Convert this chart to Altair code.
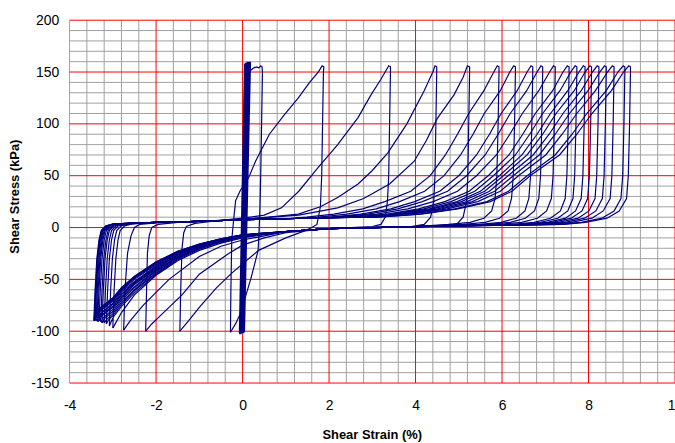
import altair as alt
import pandas as pd

FONT = "Liberation Sans"
LINE_COLOR = "#000080"
MINOR_COLOR = "#a0a0a0"
MAJOR_COLOR = "#ff0000"

X_TICKS = [-4, -2, 0, 2, 4, 6, 8, 10]
Y_TICKS = [-150, -100, -50, 0, 50, 100, 150, 200]

C00_X = [-0.06, 0.06, -0.05, 0.08, -0.03, 0.10, -0.02, 0.12, 0.00, 0.14, 0.01, 0.16, 0.02, 0.17, 0.03, 0.12, 0.02]
C00_Y = [-102, 158, -103, 159, -101, 158, -102, 160, -101, 158, -102, 159, -100, 160, -101, 157, -100]

C01_X = [0.02, 0.06, 0.10, 0.12, 0.14, 0.20, 0.26, 0.32, 0.38, 0.42, 0.45, 0.46, 0.44, 0.42, 0.40, 0.38, 0.36, 0.28, 0.20, 0.08, -0.02, -0.15, -0.28]
C01_Y = [-100, 0, 100, 150, 153, 152, 154, 155, 154, 156, 155, 150, 100, 50, 15, -5, -22, -35, -48, -65, -80, -92, -101]

C02_X = [-0.28, -0.27, -0.25, -0.20, -0.16, -0.05, 0.14, 0.30, 0.62, 0.95, 1.29, 1.55, 1.75, 1.84, 1.88, 1.87, 1.85, 1.83, 1.80, 1.72, 1.60, 1.45, 1.00, 0.37, -0.25, -0.60, -1.00, -1.25, -1.45]
C02_Y = [-101, -60, -12, 10, 26, 36, 48, 64, 90, 108, 125, 140, 150, 156, 155, 150, 100, 50, 20, 3, 0, -3, -10, -22, -44, -58, -77, -90, -100]

C03_X = [-1.45, -1.43, -1.40, -1.36, -1.30, -1.10, -0.50, 0.00, 0.50, 0.90, 1.30, 1.75, 2.20, 2.67, 2.97, 3.20, 3.38, 3.42, 3.42, 3.40, 3.38, 3.35, 3.30, 3.20, 3.00, 2.50, 2.00, 1.00, 0.50, 0.00, -0.32, -1.00, -1.40, -1.90, -2.10, -2.24]
C03_Y = [-100, -60, -20, -5, 1, 4, 7, 9, 12, 19, 35, 58, 80, 106, 128, 143, 156, 155, 150, 100, 50, 25, 10, 3, 1, 0, -1, -5, -10, -17, -25, -45, -65, -85, -93, -100]

C04_X = [-2.24, -2.22, -2.20, -2.16, -2.10, -1.95, -1.50, -0.50, 0.00, 0.60, 1.29, 1.80, 2.20, 2.67, 3.00, 3.36, 3.80, 4.20, 4.40, 4.45, 4.49,
         4.49, 4.47, 4.45, 4.42, 4.35, 4.20, 3.90, 3.00, 2.00, 1.00, 0.00, -0.50, -1.00, -1.70, -2.30, -2.60, -2.75]
C04_Y = [-100, -60, -25, -8, 0, 3, 5, 7, 8, 10, 13, 20, 29, 42, 55, 72, 100, 132, 150, 156, 155,
         150, 100, 50, 25, 10, 3, 1, 0, -1, -4, -12, -18, -28, -50, -75, -90, -99]

C05_X = [-2.75, -2.72, -2.66, -2.58, -2.50, -2.38, -2.00, -1.00, 0.00, 1.30, 2.20, 2.80, 3.40, 3.97, 4.25, 4.50, 4.89, 5.10, 5.20, 5.25,
         5.25, 5.23, 5.21, 5.18, 5.10, 4.95, 4.60, 4.00, 3.00, 2.00, 1.00, 0.00, -0.50, -1.00, -1.50, -2.00, -2.50, -2.80, -3.00]
C05_Y = [-99, -60, -25, -8, 0, 3, 4.5, 6, 8, 12, 19, 28, 42, 64, 84, 105, 128, 145, 156, 155,
         150, 100, 50, 25, 10, 3, 1.5, 0.5, 0, -1, -4, -10, -15, -22, -32, -46, -65, -82, -97]

C06_X = [-3.00, -2.97, -2.93, -2.88, -2.83, -2.73, -2.55, -2.00, -1.00, 0.00, 1.00, 1.48, 2.11, 2.78, 3.29, 3.89, 4.34, 4.69, 4.97, 5.23, 5.58, 5.81, 5.89, 5.93,
         5.93, 5.91, 5.88, 5.84, 5.76, 5.58, 5.26, 4.76, 4.00, 3.00, 2.00, 1.00, 0.00, -0.50, -1.00, -1.50, -2.00, -2.50, -2.80, -3.00, -3.08]
C06_Y = [-97, -60, -30, -12, -3, 1.5, 3.5, 5, 6, 7.5, 8.5, 10, 13, 18, 25, 35, 50, 70, 90, 110, 132, 150, 156, 155,
         150, 100, 50, 28, 16, 9, 5, 3, 0.8, 0, -1, -4, -9, -14, -21, -31, -45, -63, -76, -87, -95]

C07_X = [-3.08, -3.05, -3.01, -2.96, -2.91, -2.81, -2.63, -2.00, -1.00, 0.00, 1.00, 1.76, 2.41, 3.09, 3.63, 4.21, 4.66, 5.04, 5.33, 5.59, 5.96, 6.18, 6.27, 6.31,
         6.31, 6.29, 6.26, 6.22, 6.14, 5.94, 5.61, 5.11, 4.00, 3.00, 2.00, 1.00, 0.00, -0.50, -1.00, -1.50, -2.00, -2.50, -2.80, -3.00, -3.10, -3.15]
C07_Y = [-95, -60, -30, -12, -3, 1.5, 3.5, 5, 6, 7.5, 8.5, 10, 13, 18, 25, 35, 50, 70, 90, 110, 132, 150, 156, 155,
         150, 100, 50, 28, 16, 9, 5, 3, 0.8, 0, -1, -4, -9, -14, -20, -30, -44, -61, -74, -85, -89, -93]

C08_X = [-3.15, -3.12, -3.08, -3.03, -2.98, -2.88, -2.70, -2.00, -1.00, 0.00, 1.00, 2.05, 2.73, 3.43, 3.98, 4.56, 5.00, 5.41, 5.71, 5.98, 6.35, 6.58, 6.67, 6.71,
         6.71, 6.69, 6.66, 6.62, 6.53, 6.33, 5.98, 5.48, 4.00, 3.00, 2.00, 1.00, 0.00, -0.50, -1.00, -1.50, -2.00, -2.50, -2.80, -3.00, -3.15, -3.20]
C08_Y = [-93, -60, -30, -12, -3, 1.5, 3.5, 5, 6, 7.5, 8.5, 10, 13, 18, 25, 35, 50, 70, 90, 110, 132, 150, 156, 155,
         150, 100, 50, 28, 16, 9, 5, 3, 0.8, 0, -1, -4, -8.5, -13.5, -20, -29, -43, -60, -72, -83, -89, -92]

C09_X = [-3.20, -3.17, -3.13, -3.08, -3.03, -2.93, -2.75, -2.00, -1.00, 0.00, 1.00, 2.17, 2.89, 3.59, 4.16, 4.74, 5.18, 5.61, 5.91, 6.19, 6.57, 6.81, 6.90, 6.94,
         6.94, 6.92, 6.89, 6.85, 6.75, 6.54, 6.19, 5.69, 4.00, 3.00, 2.00, 1.00, 0.00, -0.50, -1.00, -1.50, -2.00, -2.50, -2.80, -3.00, -3.20, -3.25]
C09_Y = [-92, -60, -30, -12, -3, 1.5, 3.5, 5, 6, 7.5, 8.5, 10, 13, 18, 25, 35, 50, 70, 90, 110, 132, 150, 156, 155,
         150, 100, 50, 28, 16, 9, 5, 3, 0.8, 0, -1, -4, -8.5, -13, -19.5, -28.5, -42, -58, -70, -81, -88, -92]

C10_X = [-3.25, -3.22, -3.18, -3.13, -3.08, -2.98, -2.80, -2.00, -1.00, 0.00, 1.00, 2.00, 2.35, 3.10, 3.82, 4.41, 4.97, 5.41, 5.87, 6.18, 6.47, 6.85, 7.10, 7.19, 7.23,
         7.23, 7.21, 7.18, 7.14, 7.03, 6.82, 6.45, 5.95, 4.00, 3.00, 2.00, 1.00, 0.00, -0.50, -1.00, -1.50, -2.00, -2.50, -2.80, -3.00, -3.22, -3.28]
C10_Y = [-92, -60, -30, -12, -3, 1.5, 3.5, 5, 6, 7.5, 8.5, 9.5, 10, 13, 18, 25, 35, 50, 70, 90, 110, 132, 150, 156, 155,
         150, 100, 50, 28, 16, 9, 5, 3, 0.8, 0, -1, -4, -8, -13, -19, -28, -41, -57, -68, -79, -87, -91]

C11_X = [-3.28, -3.25, -3.21, -3.16, -3.11, -3.01, -2.83, -2.00, -1.00, 0.00, 1.00, 2.00, 2.57, 3.34, 4.07, 4.68, 5.24, 5.68, 6.16, 6.48, 6.77, 7.17, 7.41, 7.51, 7.55,
         7.55, 7.53, 7.50, 7.46, 7.35, 7.12, 6.74, 6.24, 4.00, 3.00, 2.00, 1.00, 0.00, -0.50, -1.00, -1.50, -2.00, -2.50, -2.80, -3.00, -3.25, -3.32]
C11_Y = [-91, -60, -30, -12, -3, 1.5, 3.5, 5, 6, 7.5, 8.5, 9.5, 10, 13, 18, 25, 35, 50, 70, 90, 110, 132, 150, 156, 155,
         150, 100, 50, 28, 16, 9, 5, 3, 0.8, 0, -1, -4, -8, -12.5, -18.5, -27, -40, -55, -67, -77, -85, -90]

C12_X = [-3.32, -3.29, -3.25, -3.20, -3.15, -3.05, -2.87, -2.00, -1.00, 0.00, 1.00, 2.00, 2.64, 3.44, 4.19, 4.82, 5.37, 5.80, 6.31, 6.64, 6.94, 7.34, 7.59, 7.69, 7.73,
         7.73, 7.71, 7.68, 7.64, 7.52, 7.29, 6.89, 6.39, 4.00, 3.00, 2.00, 1.00, 0.00, -0.50, -1.00, -1.50, -2.00, -2.50, -2.80, -3.00, -3.28, -3.35]
C12_Y = [-90, -60, -30, -12, -3, 1.5, 3.5, 5, 6, 7.5, 8.5, 9.5, 10, 13, 18, 25, 35, 50, 70, 90, 110, 132, 150, 156, 155,
         150, 100, 50, 28, 16, 9, 5, 3, 0.8, 0, -1, -4, -8, -12.5, -18, -26.5, -39, -54, -65, -76, -85, -91]

C13_X = [-3.35, -3.32, -3.28, -3.23, -3.18, -3.08, -2.90, -2.00, -1.00, 0.00, 1.00, 2.00, 2.72, 3.55, 4.32, 4.96, 5.50, 5.94, 6.46, 6.81, 7.12, 7.52, 7.78, 7.88, 7.92,
         7.92, 7.90, 7.87, 7.83, 7.70, 7.47, 7.05, 6.55, 4.00, 3.00, 2.00, 1.00, 0.00, -0.50, -1.00, -1.50, -2.00, -2.50, -2.80, -3.00, -3.30, -3.37]
C13_Y = [-91, -60, -30, -12, -3, 1.5, 3.5, 5, 6, 7.5, 8.5, 9.5, 10, 13, 18, 25, 35, 50, 70, 90, 110, 132, 150, 156, 155,
         150, 100, 50, 28, 16, 9, 5, 3, 0.8, 0, -1, -4, -7.5, -12, -17.5, -26, -38, -53, -64, -74, -84, -90]

C14_X = [-3.37, -3.34, -3.30, -3.25, -3.20, -3.10, -2.92, -2.00, -1.00, 0.00, 1.00, 2.00, 2.77, 3.62, 4.40, 5.06, 5.60, 6.03, 6.58, 6.94, 7.25, 7.67, 7.92, 8.03, 8.07,
         8.07, 8.05, 8.02, 7.98, 7.85, 7.60, 7.17, 6.67, 4.00, 3.00, 2.00, 1.00, 0.00, -0.50, -1.00, -1.50, -2.00, -2.50, -2.80, -3.00, -3.32, -3.39]
C14_Y = [-90, -60, -30, -12, -3, 1.5, 3.5, 5, 6, 7.5, 8.5, 9.5, 10, 13, 18, 25, 35, 50, 70, 90, 110, 132, 150, 156, 155,
         150, 100, 50, 28, 16, 9, 5, 3, 0.8, 0, -1, -4, -7.5, -12, -17.5, -25, -37, -52, -62, -73, -84, -90]

C15_X = [-3.39, -3.36, -3.32, -3.27, -3.22, -3.12, -2.94, -2.00, -1.00, 0.00, 1.00, 2.00, 2.83, 3.71, 4.51, 5.19, 5.71, 6.14, 6.72, 7.09, 7.41, 7.83, 8.09, 8.20, 8.24,
         8.24, 8.22, 8.19, 8.15, 8.01, 7.76, 7.31, 6.81, 4.00, 3.00, 2.00, 1.00, 0.00, -0.50, -1.00, -1.50, -2.00, -2.50, -2.80, -3.00, -3.33, -3.41]
C15_Y = [-90, -60, -30, -12, -3, 1.5, 3.5, 5, 6, 7.5, 8.5, 9.5, 10, 13, 18, 25, 35, 50, 70, 90, 110, 132, 150, 156, 155,
         150, 100, 50, 28, 16, 9, 5, 3, 0.8, 0, -1, -4, -7.5, -11.5, -17, -24.5, -36, -50, -61, -71, -82, -89]

C16_X = [-3.41, -3.38, -3.34, -3.29, -3.24, -3.14, -2.96, -2.00, -1.00, 0.00, 1.00, 2.00, 2.89, 3.81, 4.61, 5.31, 5.83, 6.26, 6.86, 7.23, 7.56, 7.99, 8.26, 8.37, 8.41,
         8.41, 8.39, 8.36, 8.32, 8.17, 7.91, 7.46, 6.96, 4.00, 3.00, 2.00, 1.00, 0.00, -0.50, -1.00, -1.50, -2.00, -2.50, -2.80, -3.00, -3.34, -3.42]
C16_Y = [-89, -60, -30, -12, -3, 1.5, 3.5, 5, 6, 7.5, 8.5, 9.5, 10, 13, 18, 25, 35, 50, 70, 90, 110, 132, 150, 156, 155,
         150, 100, 50, 28, 16, 9, 5, 3, 0.8, 0, -1, -4, -7, -11.5, -17, -24, -35, -49, -60, -70, -82, -90]

C17_X = [-3.42, -3.39, -3.35, -3.30, -3.25, -3.15, -2.97, -2.00, -1.00, 0.00, 1.00, 2.00, 2.96, 3.91, 4.73, 5.44, 5.96, 6.38, 7.01, 7.39, 7.73, 8.16, 8.44, 8.55, 8.59,
         8.59, 8.57, 8.54, 8.50, 8.34, 8.08, 7.61, 7.11, 4.00, 3.00, 2.00, 1.00, 0.00, -0.50, -1.00, -1.50, -2.00, -2.50, -2.80, -3.00, -3.35, -3.43]
C17_Y = [-90, -60, -30, -12, -3, 1.5, 3.5, 5, 6, 7.5, 8.5, 9.5, 10, 13, 18, 25, 35, 50, 70, 90, 110, 132, 150, 156, 155,
         150, 100, 50, 28, 16, 9, 5, 3, 0.8, 0, -1, -4, -7, -11, -16.5, -23.5, -34, -48, -59, -69, -81, -89]

C18_X = [-3.43, -3.40, -3.36, -3.31, -3.26, -3.16, -2.98, -2.00, -1.00, 0.00, 1.00, 2.00, 3.11, 4.08, 4.91, 5.65, 6.15, 6.58, 7.23, 7.62, 7.96, 8.41, 8.68, 8.80, 8.84,
         8.84, 8.82, 8.79, 8.75, 8.59, 8.31, 7.83, 7.33, 4.00, 3.00, 2.00, 1.00, 0.00, -0.50, -1.00, -1.50, -2.00, -2.50, -2.80, -3.00, -3.36, -3.44]
C18_Y = [-89, -60, -30, -12, -3, 1.5, 3.5, 5, 6, 7.5, 8.5, 9.5, 10, 13, 18, 25, 35, 50, 70, 90, 110, 132, 150, 156, 155,
         150, 100, 50, 28, 16, 9, 5, 3, 0.8, 0, -1, -4, -7, -11, -16, -23, -33.5, -47.5, -58, -68, -80, -90]

C19_X = [-3.44, -3.41, -3.37, -3.32, -3.27, -3.17, -2.99, -2.00, -1.00, 0.00, 1.00, 2.00, 3.13, 4.13, 4.98, 5.73, 6.23, 6.65, 7.33, 7.73, 8.08, 8.53, 8.81, 8.93, 8.97,
         8.97, 8.95, 8.92, 8.88, 8.71, 8.43, 7.93, 7.43, 4.00, 3.00, 2.00, 1.00, 0.00, -0.50, -1.00, -1.50, -2.00, -2.50, -2.80, -3.00, -3.37, -3.45]
C19_Y = [-90, -60, -30, -12, -3, 1.5, 3.5, 5, 6, 7.5, 8.5, 9.5, 10, 13, 18, 25, 35, 50, 70, 90, 110, 132, 150, 156, 155,
         150, 100, 50, 28, 16, 9, 5, 3, 0.8, 0, -1, -4, -7, -11, -16, -23, -33, -47, -58, -68, -80, -88]

CYCLES = [
    (C00_X, C00_Y), (C01_X, C01_Y), (C02_X, C02_Y), (C03_X, C03_Y), (C04_X, C04_Y),
    (C05_X, C05_Y), (C06_X, C06_Y), (C07_X, C07_Y), (C08_X, C08_Y), (C09_X, C09_Y),
    (C10_X, C10_Y), (C11_X, C11_Y), (C12_X, C12_Y), (C13_X, C13_Y), (C14_X, C14_Y),
    (C15_X, C15_Y), (C16_X, C16_Y), (C17_X, C17_Y), (C18_X, C18_Y), (C19_X, C19_Y),
]

rows = []
for c, (xs_, ys_) in enumerate(CYCLES):
    assert len(xs_) == len(ys_), (c, len(xs_), len(ys_))
    for i, (x, y) in enumerate(zip(xs_, ys_)):
        rows.append({"cycle": c, "i": i, "strain": x, "stress": y,
                     "w": "thick" if c == 0 else "thin"})
df = pd.DataFrame(rows)

MAJOR_X = [-2, 0, 2, 4, 6, 8, 10]
MAJOR_Y = [-150, -100, -50, 0, 50, 100, 150, 200]
MINOR_X = [round(-4 + 0.4 * k, 2) for k in range(36)]
MINOR_X = [v for v in MINOR_X if v == -4 or abs(v / 2 - round(v / 2)) > 1e-6]
MINOR_Y = [-150 + 10 * k for k in range(36) if (-150 + 10 * k) % 50 != 0]

grid_rows = []
for v in MINOR_X:
    grid_rows.append({"kind": "minor", "orient": "v", "pos": v})
for v in MINOR_Y:
    grid_rows.append({"kind": "minor", "orient": "h", "pos": v})
for v in MAJOR_X:
    grid_rows.append({"kind": "major", "orient": "v", "pos": v})
for v in MAJOR_Y:
    grid_rows.append({"kind": "major", "orient": "h", "pos": v})
grid_df = pd.DataFrame(grid_rows)
grid_df["strain"] = grid_df["pos"].where(grid_df["orient"] == "v")
grid_df["stress"] = grid_df["pos"].where(grid_df["orient"] == "h")

xscale = alt.Scale(domain=[-4, 10], nice=False, zero=False)
yscale = alt.Scale(domain=[-150, 200], nice=False, zero=False)

xaxis = alt.Axis(values=X_TICKS, title="Shear Strain (%)", grid=False, ticks=False, domain=False,
                 labelFlush=False, labelFont=FONT, labelFontSize=14, labelColor="#000000",
                 labelPadding=16, labelExpr="'' + datum.value",
                 titleFont=FONT, titleFontSize=13, titleFontWeight="bold", titleColor="#000000",
                 titleX=304, titleY=52, titleAlign="center", titleBaseline="middle")
yaxis = alt.Axis(values=Y_TICKS, title="Shear Stress (kPa)", grid=False, ticks=False, domain=False,
                 labelFlush=False, labelFont=FONT, labelFontSize=14, labelColor="#000000",
                 labelPadding=11, labelExpr="'' + datum.value",
                 titleFont=FONT, titleFontSize=13, titleFontWeight="bold", titleColor="#000000",
                 titleX=-55, titleY=177, titleAngle=270, titleAlign="center", titleBaseline="middle")

base_grid = alt.Chart(grid_df)
minor_v = base_grid.transform_filter("datum.kind == 'minor' && datum.orient == 'v'").mark_rule(
    color=MINOR_COLOR, strokeWidth=1).encode(
    x=alt.X("strain:Q", scale=xscale, axis=xaxis), y=alt.value(0), y2=alt.value(365))
minor_h = base_grid.transform_filter("datum.kind == 'minor' && datum.orient == 'h'").mark_rule(
    color=MINOR_COLOR, strokeWidth=1).encode(
    y=alt.Y("stress:Q", scale=yscale, axis=yaxis), x=alt.value(0), x2=alt.value(609))
major_v = base_grid.transform_filter("datum.kind == 'major' && datum.orient == 'v'").mark_rule(
    color=MAJOR_COLOR, strokeWidth=1).encode(
    x=alt.X("strain:Q", scale=xscale, axis=xaxis), y=alt.value(0), y2=alt.value(365))
major_h = base_grid.transform_filter("datum.kind == 'major' && datum.orient == 'h'").mark_rule(
    color=MAJOR_COLOR, strokeWidth=1).encode(
    y=alt.Y("stress:Q", scale=yscale, axis=yaxis), x=alt.value(0), x2=alt.value(609))

base_lines = alt.Chart(df)
thin = base_lines.transform_filter("datum.w == 'thin'").mark_line(
    color=LINE_COLOR, strokeWidth=1.2, clip=True).encode(
    x=alt.X("strain:Q", scale=xscale, axis=xaxis),
    y=alt.Y("stress:Q", scale=yscale, axis=yaxis),
    detail="cycle:N",
    order="i:Q",
)
thick = base_lines.transform_filter("datum.w == 'thick'").mark_line(
    color=LINE_COLOR, strokeWidth=2.4, clip=True).encode(
    x=alt.X("strain:Q", scale=xscale, axis=xaxis),
    y=alt.Y("stress:Q", scale=yscale, axis=yaxis),
    detail="cycle:N",
    order="i:Q",
)

chart = alt.layer(minor_v, minor_h, major_v, major_h, thin, thick).properties(
    width=609, height=365,
    padding={"left": 70, "top": 19, "right": 0, "bottom": 59},
    autosize=alt.AutoSizeParams(type="none"),
    background="#ffffff",
).configure_view(stroke=None)

chart.save("out.html", embed_options={"renderer": "svg", "actions": False})
